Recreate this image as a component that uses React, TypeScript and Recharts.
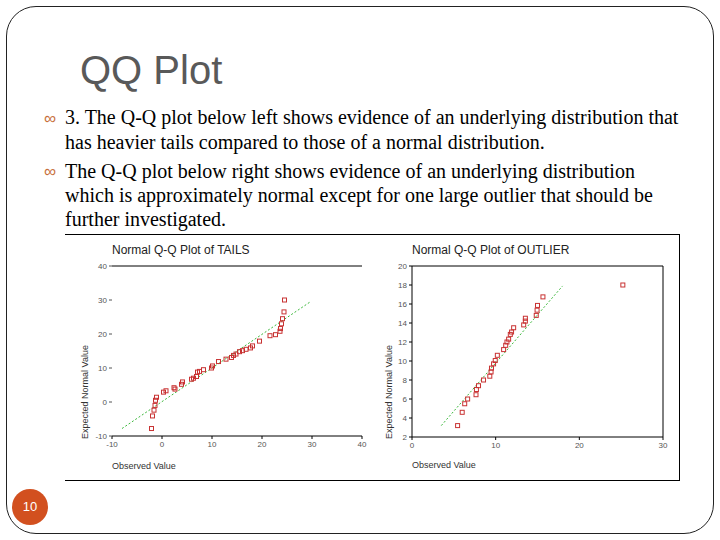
import React from "react";
import {
  ScatterChart,
  Scatter,
  XAxis,
  YAxis,
  ReferenceLine,
} from "recharts";

// Normal Q-Q plot of TAILS: observed value vs expected normal value
const tailsPoints = [
  { x: -2.1, y: -7.8 }, { x: -1.9, y: -4.1 }, { x: -1.6, y: -2.4 },
  { x: -1.4, y: -1.0 }, { x: -1.3, y: 0.5 }, { x: -1.1, y: 1.4 },
  { x: 0.3, y: 2.9 }, { x: 0.8, y: 3.3 }, { x: 2.4, y: 4.2 },
  { x: 2.6, y: 3.8 }, { x: 3.9, y: 5.2 }, { x: 4.1, y: 5.9 },
  { x: 5.9, y: 6.7 }, { x: 6.3, y: 7.0 }, { x: 6.9, y: 7.5 },
  { x: 7.1, y: 8.8 }, { x: 7.5, y: 9.0 }, { x: 8.3, y: 9.5 },
  { x: 9.9, y: 10.0 }, { x: 10.1, y: 10.6 }, { x: 11.3, y: 11.9 },
  { x: 12.8, y: 12.6 }, { x: 13.9, y: 13.1 }, { x: 14.3, y: 13.7 },
  { x: 14.8, y: 14.1 }, { x: 15.5, y: 14.8 }, { x: 16.1, y: 15.1 },
  { x: 16.8, y: 15.5 }, { x: 17.7, y: 15.9 }, { x: 18.1, y: 16.5 },
  { x: 19.5, y: 17.9 }, { x: 21.6, y: 19.5 }, { x: 22.7, y: 19.8 },
  { x: 23.6, y: 20.8 }, { x: 23.7, y: 21.6 }, { x: 23.9, y: 23.0 },
  { x: 24.1, y: 24.5 }, { x: 24.4, y: 26.5 }, { x: 24.5, y: 30.0 },
];
const tailsLine = [{ x: -8, y: -7.8 }, { x: 29.7, y: 29.5 }];
const tailsXTicks = [-10, 0, 10, 20, 30, 40];
const tailsYTicks = [-10, 0, 10, 20, 30, 40];

// Normal Q-Q plot of OUTLIER
const outlierPoints = [
  { x: 5.45, y: 3.2 }, { x: 6.0, y: 4.6 }, { x: 6.3, y: 5.5 },
  { x: 6.65, y: 6.0 }, { x: 7.65, y: 6.45 }, { x: 7.7, y: 7.0 },
  { x: 7.95, y: 7.4 }, { x: 8.55, y: 8.0 }, { x: 9.3, y: 8.4 },
  { x: 9.45, y: 8.85 }, { x: 9.5, y: 9.25 }, { x: 9.75, y: 9.7 },
  { x: 9.95, y: 10.05 }, { x: 10.2, y: 10.6 }, { x: 10.95, y: 11.2 },
  { x: 11.2, y: 11.65 }, { x: 11.35, y: 12.0 }, { x: 11.55, y: 12.3 },
  { x: 11.75, y: 12.8 }, { x: 11.9, y: 13.05 }, { x: 12.15, y: 13.5 },
  { x: 13.35, y: 13.8 }, { x: 13.55, y: 14.2 }, { x: 13.55, y: 14.5 },
  { x: 14.85, y: 14.8 }, { x: 14.95, y: 15.35 }, { x: 15.0, y: 15.85 },
  { x: 15.65, y: 16.75 }, { x: 25.2, y: 18.0 },
];
const outlierLine = [{ x: 3.5, y: 3.2 }, { x: 18, y: 17.9 }];
const outlierXTicks = [0, 10, 20, 30];
const outlierYTicks = [2, 4, 6, 8, 10, 12, 14, 16, 18, 20];

const bullet1 = [
  "3. The Q-Q plot below left shows evidence of an underlying distribution that",
  "has heavier tails compared to those of a normal distribution.",
];
const bullet2 = [
  "The Q-Q plot below right shows evidence of an underlying distribution",
  "which is approximately normal except for one large outlier that should be",
  "further investigated.",
];

const sans = "'Liberation Sans', Arial, sans-serif";
const serif = "'Liberation Serif', 'Times New Roman', serif";
const red = "#c83232";
const green = "#3cb83c";
const tickStyle = { fontSize: 8, fill: "#555", fontFamily: sans };

const SquareMark = (props: any) => {
  const { cx, cy } = props;
  if (cx == null || cy == null) return <g />;
  return (
    <rect x={cx - 2} y={cy - 2} width={4} height={4} fill="none" stroke={red} strokeWidth={1} />
  );
};

const abs = (left: number, top: number): React.CSSProperties => ({
  position: "absolute",
  left,
  top,
});

const Bullet = ({ top, lines, lh }: { top: number; lines: string[]; lh: number }) => (
  <div style={{ ...abs(44, top), fontFamily: serif, fontSize: 20, lineHeight: `${lh}px`, color: "#000", whiteSpace: "nowrap" }}>
    <span style={{ position: "absolute", left: 0, top: 1, color: "#c8703c", fontSize: 17, fontFamily: sans }}>∞</span>
    <div style={{ marginLeft: 21 }}>
      {lines.map((l, i) => (
        <div key={i}>{l}</div>
      ))}
    </div>
  </div>
);

const App = () => {
  return (
    <div style={{ position: "absolute", left: 0, top: 0, width: 720, height: 540, background: "#fff", overflow: "hidden" }}>
      {/* slide frame */}
      <div style={{ ...abs(6, 6), width: 706, height: 526, border: "1px solid #222", borderRadius: 30 }} />

      <div style={{ ...abs(80, 50), fontFamily: sans, fontSize: 40, lineHeight: "40px", color: "#595959" }}>QQ Plot</div>

      <Bullet top={105} lines={bullet1} lh={25} />
      <Bullet top={159} lines={bullet2} lh={24} />

      {/* picture frame: top, right, bottom */}
      <div style={{ ...abs(65, 234), width: 614, height: 245, borderTop: "1px solid #000", borderRight: "1px solid #000", borderBottom: "1px solid #000" }} />

      {/* left plot */}
      <div style={{ ...abs(112, 243), fontFamily: sans, fontSize: 12, color: "#222" }}>Normal Q-Q Plot of TAILS</div>
      <div style={{ ...abs(112, 461), fontFamily: sans, fontSize: 9, color: "#333" }}>Observed Value</div>
      <div style={{ ...abs(85, 392), fontFamily: sans, fontSize: 9, color: "#333", transform: "translate(-50%, -50%) rotate(-90deg)", whiteSpace: "nowrap" }}>Expected Normal Value</div>
      <div style={abs(60, 240)}>
        <ScatterChart width={310} height={235} margin={{ top: 26, right: 8, bottom: 19, left: 0 }}>
          <XAxis
            type="number"
            dataKey="x"
            domain={[-10, 40]}
            ticks={tailsXTicks}
            height={20}
            tick={tickStyle}
            tickSize={3}
            stroke="#000"
            allowDataOverflow
          />
          <YAxis
            type="number"
            dataKey="y"
            domain={[-10, 40]}
            ticks={tailsYTicks}
            width={52}
            tick={tickStyle}
            tickSize={3}
            axisLine={false}
            stroke="#555"
            allowDataOverflow
          />
          <ReferenceLine y={40} stroke="#000" strokeWidth={1} />
          <ReferenceLine segment={tailsLine} stroke={green} strokeDasharray="2 2" strokeWidth={1} />
          <Scatter data={tailsPoints} shape={SquareMark} isAnimationActive={false} />
        </ScatterChart>
      </div>

      {/* right plot */}
      <div style={{ ...abs(412, 243), fontFamily: sans, fontSize: 12, color: "#222" }}>Normal Q-Q Plot of OUTLIER</div>
      <div style={{ ...abs(412, 460), fontFamily: sans, fontSize: 9, color: "#333" }}>Observed Value</div>
      <div style={{ ...abs(389, 392), fontFamily: sans, fontSize: 9, color: "#333", transform: "translate(-50%, -50%) rotate(-90deg)", whiteSpace: "nowrap" }}>Expected Normal Value</div>
      <div style={abs(380, 240)}>
        <ScatterChart width={300} height={235} margin={{ top: 26, right: 17, bottom: 18, left: 0 }}>
          <XAxis
            type="number"
            dataKey="x"
            domain={[0, 30]}
            ticks={outlierXTicks}
            height={20}
            tick={tickStyle}
            tickSize={3}
            stroke="#000"
            allowDataOverflow
          />
          <YAxis
            type="number"
            dataKey="y"
            domain={[2, 20]}
            ticks={outlierYTicks}
            width={32}
            tick={tickStyle}
            tickSize={3}
            stroke="#000"
            allowDataOverflow
          />
          <ReferenceLine y={20} stroke="#000" strokeWidth={1} />
          <ReferenceLine x={30} stroke="#000" strokeWidth={1} />
          <ReferenceLine segment={outlierLine} stroke={green} strokeDasharray="2 2" strokeWidth={1} />
          <Scatter data={outlierPoints} shape={SquareMark} isAnimationActive={false} />
        </ScatterChart>
      </div>

      {/* page number */}
      <div style={{ ...abs(12, 489), width: 36, height: 36, borderRadius: 18, background: "#d2501f", color: "#fff", fontFamily: sans, fontSize: 13, lineHeight: "36px", textAlign: "center" }}>10</div>
    </div>
  );
};

export default App;
